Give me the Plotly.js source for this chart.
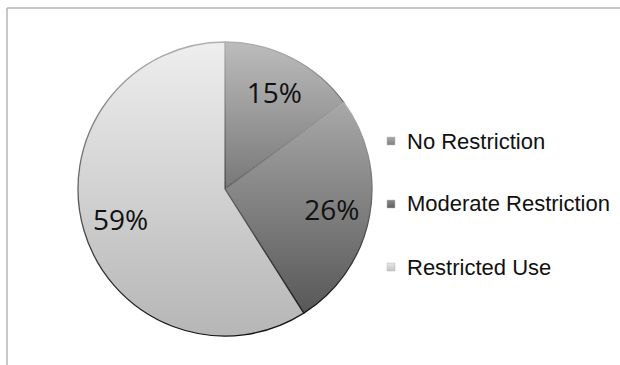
<!DOCTYPE html>
<html>
<head>
<meta charset="utf-8">
<script src="https://cdn.plot.ly/plotly-3.0.1.min.js"></script>
<style>html,body{margin:0;padding:0;background:#fff;}#chart{width:620px;height:365px;}</style>
</head>
<body>
<div id="chart"></div>
<script>
// Data
var categories = ["No Restriction", "Moderate Restriction", "Restricted Use"];
var shares = [15, 26, 59];
var sliceColors = ["#9a9a9a", "#808080", "#d2d2d2"];
// gradient (top, bottom) per slice, used for shading
var gradTop = ["#bcbcbc", "#a8a8a8", "#eeeeee"];
var gradBottom = ["#787878", "#585858", "#b6b6b6"];
var legendTop = ["#a8a8a8", "#8a8a8a", "#e6e6e6"];
var legendBottom = ["#808080", "#5e5e5e", "#c2c2c2"];

var W = 620, H = 365;
var cx = 225, cy = 189, r = 147;
var dom = {x: [(cx - r) / W, (cx + r) / W], y: [(H - cy - r) / H, (H - cy + r) / H]};

var pieTrace = {
  type: "pie",
  labels: categories,
  values: shares,
  sort: false,
  direction: "clockwise",
  rotation: 0,
  textinfo: "none",
  marker: {colors: sliceColors, line: {color: "#555", width: 1}},
  showlegend: false,
  hoverinfo: "none",
  domain: dom
};
// transparent ring used only to place the percentage labels further out
var labelTrace = {
  type: "pie",
  labels: categories,
  values: shares,
  sort: false,
  direction: "clockwise",
  rotation: 0,
  hole: 0.48,
  texttemplate: "%{percent:.0%}",
  textposition: "inside",
  insidetextorientation: "horizontal",
  textfont: {family: "Open Sans, Noto Sans, sans-serif", size: 28, color: "#111"},
  marker: {colors: ["rgba(0,0,0,0)", "rgba(0,0,0,0)", "rgba(0,0,0,0)"], line: {width: 0}},
  showlegend: false,
  hoverinfo: "none",
  domain: dom
};

var annotations = [];
var shapes = [];
shapes.push({type: "line", xref: "paper", yref: "paper", x0: 7 / W, x1: 1.02, y0: (H - 8) / H, y1: (H - 8) / H, line: {color: "#b4b4b4", width: 1.5}});
shapes.push({type: "line", xref: "paper", yref: "paper", x0: 7 / W, x1: 7 / W, y0: (H - 8) / H, y1: -0.02, line: {color: "#b4b4b4", width: 1.5}});

var legX = 387, legY0 = 141, legStep = 63;
for (var i = 0; i < categories.length; i++) {
  var yc = legY0 + i * legStep;
  shapes.push({type: "rect", xref: "paper", yref: "paper",
    x0: legX / W, x1: (legX + 8) / W, y0: (H - yc - 4) / H, y1: (H - yc + 4) / H,
    fillcolor: sliceColors[i], line: {color: "#bbb", width: 0.5}});
  annotations.push({xref: "paper", yref: "paper", x: (legX + 18) / W, y: (H - yc) / H,
    xanchor: "left", yanchor: "middle", showarrow: false, text: categories[i],
    font: {family: "Liberation Sans, Arial, sans-serif", size: 22, color: "#111"}});
}

var layout = {
  width: W, height: H,
  margin: {l: 0, r: 0, t: 0, b: 0},
  paper_bgcolor: "#fff",
  showlegend: false,
  shapes: shapes,
  annotations: annotations
};

function addGradient(defs, id, top, bottom) {
  var ns = "http://www.w3.org/2000/svg";
  var g = document.createElementNS(ns, "linearGradient");
  g.setAttribute("id", id);
  g.setAttribute("x1", "0"); g.setAttribute("y1", "0");
  g.setAttribute("x2", "0"); g.setAttribute("y2", "1");
  [[0, top], [1, bottom]].forEach(function (s) {
    var st = document.createElementNS(ns, "stop");
    st.setAttribute("offset", s[0]);
    st.setAttribute("stop-color", s[1]);
    g.appendChild(st);
  });
  defs.appendChild(g);
}

Plotly.newPlot("chart", [pieTrace, labelTrace], layout, {staticPlot: true, displayModeBar: false}).then(function (gd) {
  var svg = gd.querySelector("svg.main-svg");
  var defs = svg.querySelector("defs") || svg.insertBefore(document.createElementNS("http://www.w3.org/2000/svg", "defs"), svg.firstChild);
  addGradient(defs, "edgeGrad", "#b0b0b0", "#111111");
  for (var i = 0; i < categories.length; i++) {
    addGradient(defs, "sliceGrad" + i, gradTop[i], gradBottom[i]);
    addGradient(defs, "legGrad" + i, legendTop[i], legendBottom[i]);
  }
  var traces = gd.querySelectorAll(".pielayer .trace");
  var slices = traces[0].querySelectorAll(".slice path.surface");
  slices.forEach(function (p, k) {
    p.style.fill = "url(#sliceGrad" + k + ")";
    p.style.stroke = "url(#edgeGrad)";
    p.style.strokeWidth = "1.3px";
  });
  var shapePaths = gd.querySelectorAll(".shapelayer path");
  var n = 0;
  shapePaths.forEach(function (p) {
    var idx = +p.getAttribute("data-index");
    if (idx >= 2) { p.style.fill = "url(#legGrad" + (idx - 2) + ")"; n++; }
  });
});
</script>
</body>
</html>
